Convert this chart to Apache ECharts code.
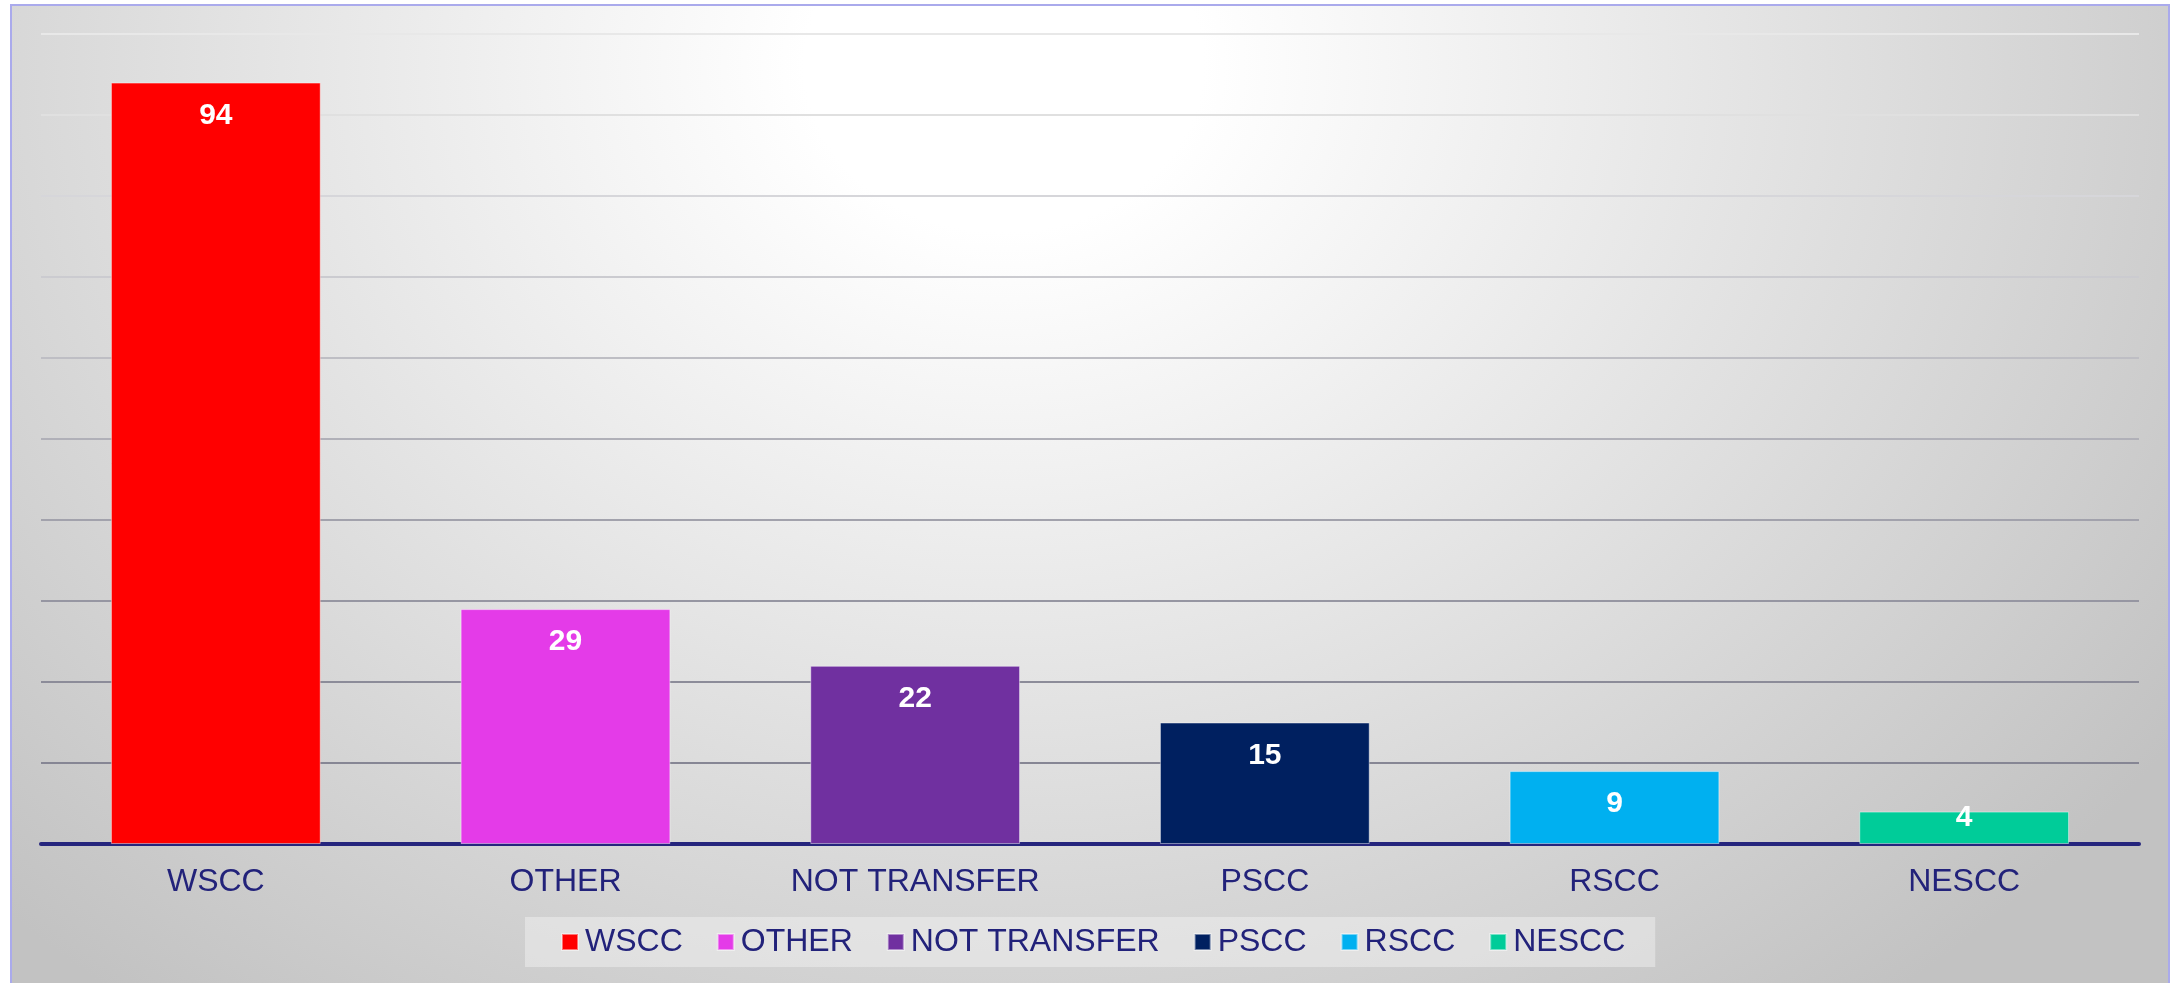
<!DOCTYPE html>
<html><head><meta charset="utf-8">
<script src="https://cdn.jsdelivr.net/npm/echarts@6/dist/echarts.min.js"></script>
<style>
html,body{margin:0;padding:0;background:#fff;width:2176px;height:983px;overflow:hidden;}
#bg{position:absolute;left:10px;top:4px;width:2156px;height:990px;border:2px solid #aaaaec;
background:radial-gradient(ellipse 66% 120% at 46% 6%, #ffffff 0%, #ffffff 14%, #e2e2e2 55%, #c2c2c2 100%);}
#chart{position:absolute;left:0;top:0;width:2176px;height:983px;}
</style></head><body>
<div id="bg"></div>
<div id="chart"></div>
<script>
const categories = ['WSCC', 'OTHER', 'NOT TRANSFER', 'PSCC', 'RSCC', 'NESCC'];
const values = [94, 29, 22, 15, 9, 4];
const colors = ['#ff0000', '#e43be8', '#7030a0', '#002060', '#00b0f0', '#00cc99'];
const gridColors = ['#8a8a98', '#868694', '#8c8c99', '#9696a2', '#a2a2ac', '#b0b0b8', '#bebec4', '#cbcbd0', '#d6d6da', '#e0e0e0', '#e8e8e8'];

const font = 'Arial, "Liberation Sans", sans-serif';
const series = categories.map((name, i) => ({
  name: name,
  type: 'bar',
  stack: 'all',
  barWidth: '60%',
  itemStyle: { color: colors[i], borderColor: 'rgba(255,255,255,0.45)', borderWidth: 1 },
  label: {
    show: true,
    position: 'insideTop',
    distance: values[i] < 6 ? -9 : 18,
    color: '#ffffff',
    fontWeight: 'bold',
    fontSize: 30,
    fontFamily: font
  },
  data: categories.map((c, j) => j === i ? values[i] : '-')
}));

const chart = echarts.init(document.getElementById('chart'), null, { renderer: 'canvas' });
chart.setOption({
  backgroundColor: 'transparent',
  animation: false,
  grid: { left: 41, right: 37, top: 34, bottom: 139, containLabel: false },
  legend: {
    data: categories,
    top: 917,
    left: 525,
    itemWidth: 16,
    itemHeight: 16,
    itemGap: 34,
    padding: [9, 30, 9, 36],
    backgroundColor: 'rgba(245,245,245,0.45)',
    icon: 'rect',
    textStyle: { color: '#22227a', fontSize: 32, fontFamily: font, padding: [0, 0, 0, 2] }
  },
  xAxis: {
    type: 'category',
    data: categories,
    axisLine: { show: true, lineStyle: { color: '#25257d', width: 4 } },
    axisTick: { show: false },
    axisLabel: { color: '#22227a', fontSize: 32, fontFamily: font, margin: 22 }
  },
  yAxis: {
    type: 'value',
    min: 0,
    max: 100,
    interval: 10,
    axisLine: { show: false },
    axisTick: { show: false },
    axisLabel: { show: false },
    splitLine: { show: true, lineStyle: { color: gridColors, width: 2 } }
  },
  series: series
});
</script>
</body></html>
